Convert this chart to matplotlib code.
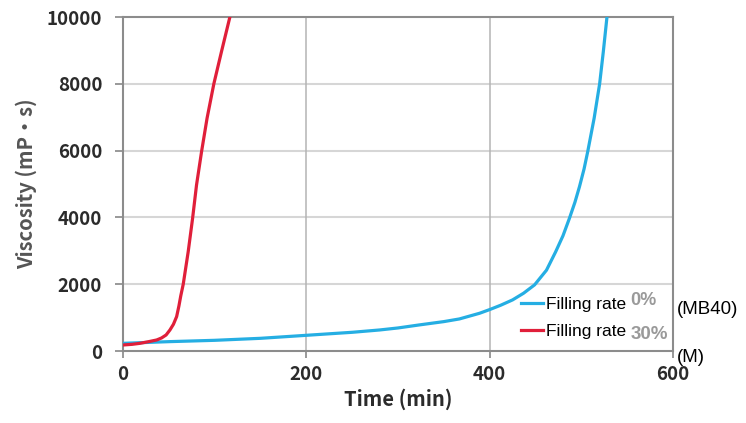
import matplotlib
matplotlib.use("Agg")
import matplotlib.pyplot as plt
from matplotlib.lines import Line2D

# Viscosity vs. time for two filling rates
time_0 = [0, 50, 100, 150, 200, 250, 280, 300, 323, 350, 367, 389, 400, 412, 425,
          437, 449, 462, 472, 480, 487, 493, 498, 503, 507, 514, 520, 524, 528]
visc_0 = [230, 280, 320, 380, 470, 560, 630, 690, 780, 880, 960, 1130, 1240, 1370, 1530,
          1730, 1980, 2420, 2970, 3450, 3970, 4450, 4920, 5450, 5970, 6970, 8000, 8960, 10000]

time_30 = [0, 10, 18.5, 28, 36.7, 42, 47, 51.2, 55, 58.5, 61, 63, 65.7, 71.1, 75.9, 80.2,
           85.7, 91.7, 99.1, 107.4, 116.6]
visc_30 = [180, 200, 230, 280, 330, 390, 480, 630, 800, 1030, 1350, 1650, 2000, 2970, 3970,
           4970, 5970, 6970, 8000, 8960, 10000]

x_ticks = [0, 200, 400, 600]
y_ticks = [0, 2000, 4000, 6000, 8000, 10000]
series_labels = ["Filling rate", "Filling rate"]
series_suffix = ["0%", "30%"]

BLUE = "#25aee3"
RED = "#e01f3a"
JP = ["Noto Sans CJK JP", "DejaVu Sans"]
TICK_FONT = dict(family=JP, weight="bold", size=13.5, color="#2b2b2b")

fig = plt.figure(figsize=(7.46, 4.23), dpi=100)
ax = fig.add_axes([0.1649, 0.1702, 0.9021 - 0.1649, 0.9598 - 0.1702])

ax.plot(time_0, visc_0, color=BLUE, lw=2.3, solid_joinstyle="round", zorder=3)
ax.plot(time_30, visc_30, color=RED, lw=2.3, solid_joinstyle="round", zorder=4)

ax.set_xlim(0, 600)
ax.set_ylim(0, 10000)
ax.set_xticks(x_ticks)
ax.set_yticks(y_ticks)
ax.set_xticklabels([str(v) for v in x_ticks], fontdict=TICK_FONT)
ax.set_yticklabels([str(v) for v in y_ticks], fontdict=TICK_FONT)
ax.tick_params(axis="y", direction="out", length=6, width=1.2, color="#888888", pad=9)
ax.tick_params(axis="x", direction="out", length=5, width=1.2, color="#888888", pad=5)

# grid: light horizontal lines, slightly darker vertical ones
for y in y_ticks[1:-1]:
    ax.axhline(y, color="#d6d6d6", lw=1.5, zorder=1)
for x in x_ticks[1:-1]:
    ax.axvline(x, color="#b4b4b4", lw=1.1, zorder=1)

for s in ax.spines.values():
    s.set_color("#8c8c8c")
    s.set_linewidth(1.5)

ax.set_xlabel("Time (min)", family=JP, weight="bold", size=14.5, color="#2b2b2b", labelpad=3)
ax.set_ylabel("Viscosity (mP・s)", family=JP, weight="bold", size=14.5, color="#555555",
              labelpad=7)

handles = [Line2D([], [], color=BLUE, lw=2.3), Line2D([], [], color=RED, lw=2.3)]
leg = ax.legend(handles, series_labels, loc="lower left", bbox_to_anchor=(0.714, 0.021),
                frameon=False, handlelength=1.3, handletextpad=0.12, labelspacing=0.65,
                borderpad=0.3, borderaxespad=0, prop=dict(family="Liberation Sans", size=12.5))
leg.set_zorder(5)
for t in leg.get_texts():
    t.set_color("black")

ax.text(0.947, 0.150, series_suffix[0], transform=ax.transAxes, ha="center", va="center",
        family="Liberation Sans", weight="bold", size=13, color="#9a9a9a", zorder=6)
ax.text(0.958, 0.050, series_suffix[1], transform=ax.transAxes, ha="center", va="center",
        family="Liberation Sans", weight="bold", size=13.5, color="#9a9a9a", zorder=6)

fig.text(677 / 746, 1 - 310 / 423, "(MB40)", ha="left", va="center",
         family="Liberation Sans", size=13.5, color="black")
fig.text(677 / 746, 1 - 357 / 423, "(M)", ha="left", va="center",
         family="Liberation Sans", size=13.5, color="black")

fig.savefig("out.png", dpi=100, facecolor="white")
